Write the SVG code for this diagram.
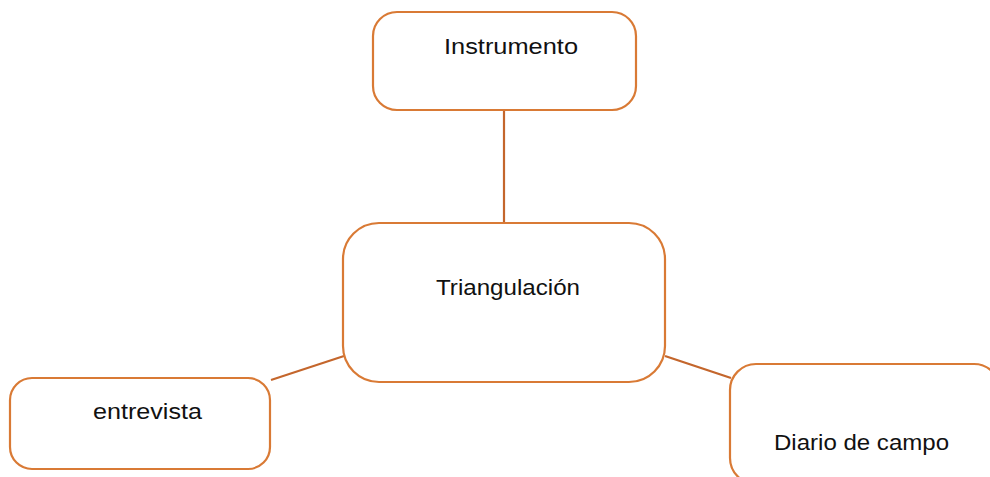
<svg xmlns="http://www.w3.org/2000/svg" width="990" height="477" viewBox="0 0 990 477">
<style>
.box{fill:#fff;stroke:#D97A35;stroke-width:2.2}
.conn{stroke:#C4662C;stroke-width:2.2;fill:none}
.lbl{font-family:"Liberation Sans",Arial,sans-serif;font-size:22px;fill:#111}
</style>
<rect width="990" height="477" fill="#fff"/>
<g id="connectors">
<line class="conn" x1="504" y1="110" x2="504" y2="223"/>
<line class="conn" x1="271" y1="380" x2="344" y2="356"/>
<line class="conn" x1="665" y1="356" x2="731" y2="378"/>
</g>
<g id="instrumento">
<rect class="box" x="373" y="12" width="263" height="98" rx="24" ry="24"/>
<text class="lbl" x="444" y="54" textLength="134" lengthAdjust="spacingAndGlyphs">Instrumento</text>
</g>
<g id="triangulacion">
<rect class="box" x="343" y="223" width="322" height="159" rx="36" ry="36"/>
<text class="lbl" x="436" y="295" textLength="144" lengthAdjust="spacingAndGlyphs">Triangulación</text>
</g>
<g id="entrevista">
<rect class="box" x="10" y="378" width="260" height="91" rx="22" ry="22"/>
<text class="lbl" x="93" y="419" textLength="109" lengthAdjust="spacingAndGlyphs">entrevista</text>
</g>
<g id="diario">
<rect class="box" x="730" y="364" width="270" height="120" rx="26" ry="26"/>
<text class="lbl" x="774" y="450" textLength="175" lengthAdjust="spacingAndGlyphs">Diario de campo</text>
</g>
</svg>
